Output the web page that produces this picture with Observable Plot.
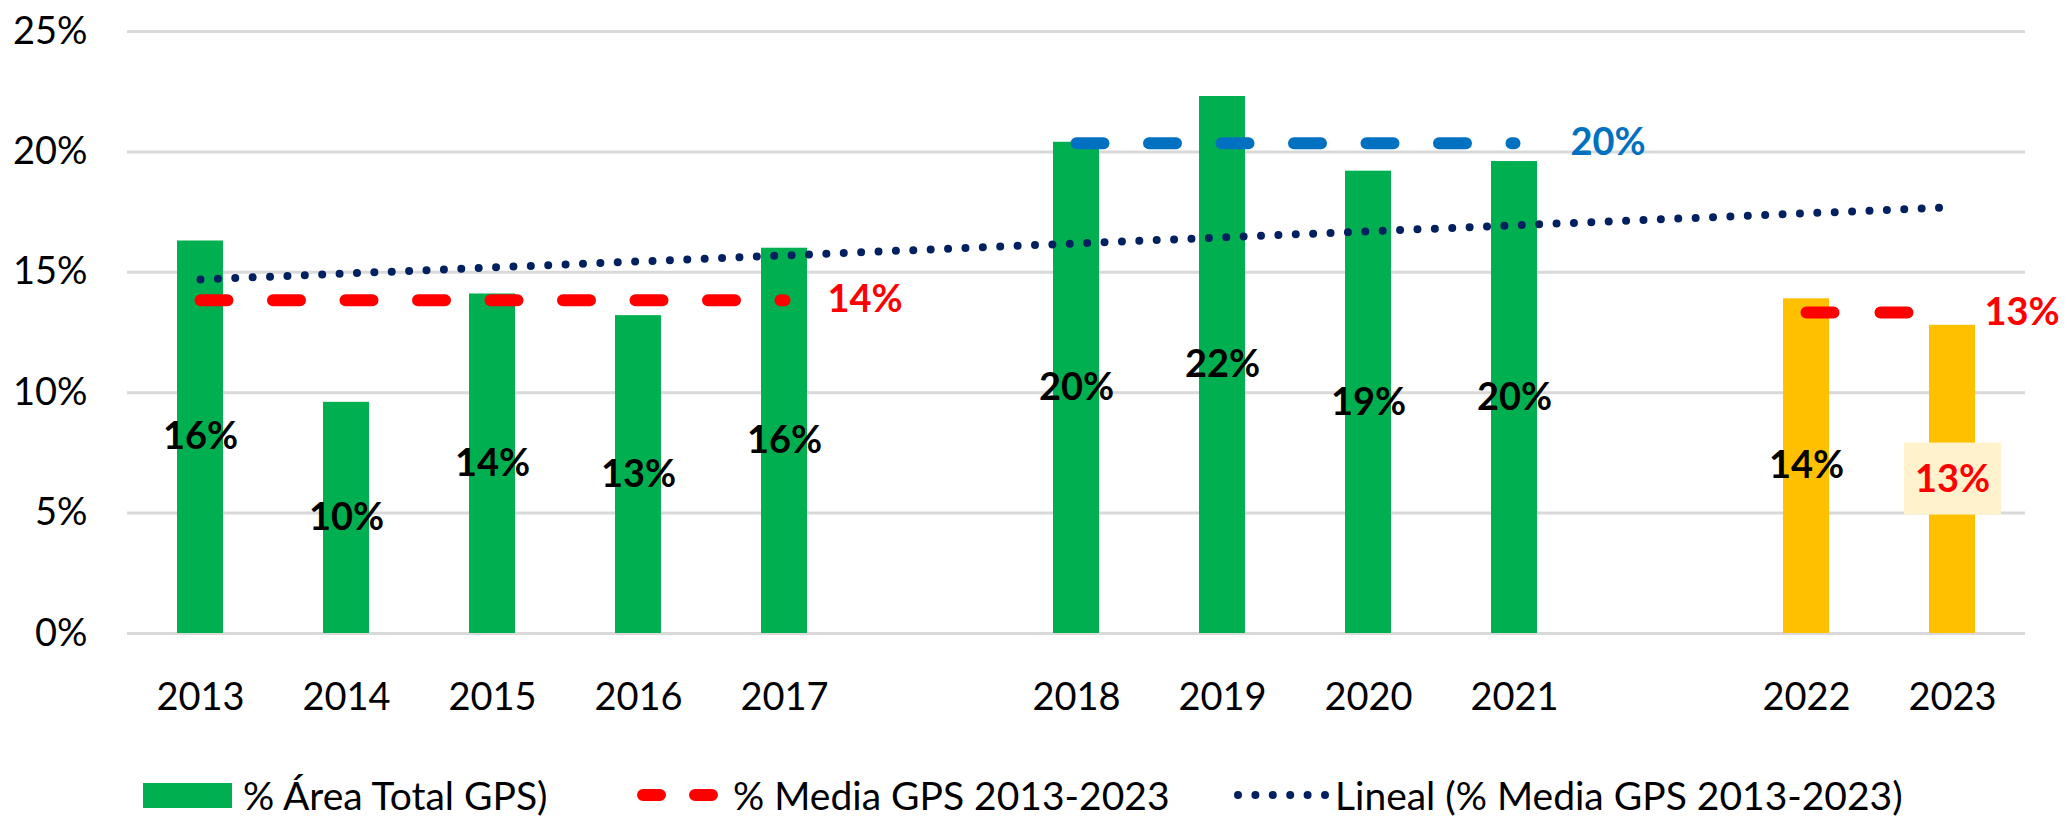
<!DOCTYPE html>
<html><head><meta charset="utf-8">
<script src="https://cdn.jsdelivr.net/npm/d3@7"></script>
<script src="https://cdn.jsdelivr.net/npm/@observablehq/plot@0.6"></script>
<style>
body{margin:0;background:#fff;font-family:Lato,sans-serif;}
#wrap{position:relative;width:2067px;height:819px;overflow:hidden;background:#fff;}
#chart{position:absolute;left:0;top:0;}
#legend{position:absolute;left:0;top:770px;width:2067px;height:50px;font-size:39px;color:#000;}
.item{position:absolute;top:0;display:flex;align-items:center;height:50px;white-space:nowrap;}
.item svg{display:block;}
</style></head><body>
<div id="wrap"><div id="chart"></div><div id="legend"></div></div>
<script>
// ---- data ----
const years = ["2013","2014","2015","2016","2017","2018","2019","2020","2021","2022","2023"];
const slots = ["2013","2014","2015","2016","2017","gap1","2018","2019","2020","2021","gap2","2022","2023"];
const shares = [16.3, 9.6, 14.1, 13.2, 16.0, 20.4, 22.3, 19.2, 19.6, 13.9, 12.8];
const shareLabels = ["16%","10%","14%","13%","16%","20%","22%","19%","20%","14%","13%"];
const shareGroup = ["past","past","past","past","past","past","past","past","past","recent","recent"];
const highlightYear = "2023";
const mediaFrom = ["2013","2018","2022"];
const mediaTo = ["2017","2021","2023"];
const mediaValues = [13.84, 20.36, 13.33];
const mediaLabels = ["14%","20%","13%"];
const trendYears = ["2013","2023"];
const trendValues = [14.7, 17.7];
const yTicks = [0,5,10,15,20,25];
const legendLabels = ["% Área Total GPS)","% Media GPS 2013-2023","Lineal (% Media GPS 2013-2023)"];

// ---- build ----
const bars = years.map((y,i)=>({year:y, value:shares[i], label:shareLabels[i], group:shareGroup[i]}));
const mediaColors = ["#FF0000","#0070C0","#FF0000"];
const mediaDash = ["27,45.5","27,45.5","27,47"];
const mediaDx = [43,56,32];
const font = "Lato, 'Open Sans', sans-serif";

const marks = [
  Plot.ruleY(yTicks, {stroke:"#d9d9d9", strokeWidth:3}),
  Plot.barY(bars, {filter:d=>d.group==="past", x:"year", y:"value", fill:"#00B050"}),
  Plot.barY(bars, {filter:d=>d.group==="recent", x:"year", y:"value", fill:"#FFC000"}),
];
mediaValues.forEach((v,i)=>{
  marks.push(Plot.line([{x:mediaFrom[i],y:v},{x:mediaTo[i],y:v}], {x:"x", y:"y", stroke:mediaColors[i], strokeWidth:12, strokeDasharray:mediaDash[i], strokeLinecap:"round"}));
});
marks.push(Plot.line(trendYears.map((x,i)=>({x, y:trendValues[i]})), {x:"x", y:"y", stroke:"#002060", strokeWidth:8, strokeDasharray:"0,17.4", strokeLinecap:"round"}));
marks.push(Plot.text(bars, {filter:d=>d.year!==highlightYear, x:"year", y:d=>d.value/2, text:"label", fill:"#000", fontSize:38, fontWeight:"bold"}));
marks.push(Plot.text(bars, {filter:d=>d.year===highlightYear, x:"year", y:d=>d.value/2, text:"label", fill:"#FF0000", fontSize:38, fontWeight:"bold", ariaDescription:"highlight-label"}));
mediaValues.forEach((v,i)=>{
  marks.push(Plot.text([{x:mediaTo[i],y:v,t:mediaLabels[i]}], {x:"x", y:"y", text:"t", fill:mediaColors[i], fontSize:38, fontWeight:"bold", textAnchor:"start", dx:mediaDx[i]}));
});
marks.push(Plot.axisY({ticks:yTicks, tickFormat:d=>d+"%", tickSize:0, tickPadding:40, fontSize:38, label:null, color:"#000"}));
marks.push(Plot.axisX({ticks:years, tickSize:0, tickPadding:50, fontSize:38, label:null, color:"#000"}));

const chart = Plot.plot({
  width:2067, height:760,
  marginLeft:127, marginRight:42, marginTop:31, marginBottom:127,
  style:{fontFamily:font, background:"#fff", color:"#000", overflow:"visible"},
  x:{type:"band", domain:slots, paddingInner:0.685, paddingOuter:0.3425},
  y:{domain:[0,25]},
  marks
});
document.getElementById("chart").appendChild(chart);

// background box behind highlighted label
chart.querySelectorAll('g[aria-description="highlight-label"] text').forEach(t=>{
  const b = t.getBBox();
  const r = document.createElementNS("http://www.w3.org/2000/svg","rect");
  r.setAttribute("x", b.x-11); r.setAttribute("y", b.y-11);
  r.setAttribute("width", b.width+22); r.setAttribute("height", b.height+26);
  r.setAttribute("fill", "#FFF2CC");
  if (t.getAttribute("transform")) r.setAttribute("transform", t.getAttribute("transform"));
  t.parentNode.insertBefore(r, t);
});

// legend
const legend = document.getElementById("legend");
const legendLeft = [143, 637, 1233];
const swatches = [
  '<svg width="89" height="25"><rect width="89" height="25" fill="#00B050"/></svg>',
  '<svg width="81" height="14"><line x1="6" x2="75" y1="7" y2="7" stroke="#FF0000" stroke-width="12" stroke-dasharray="17,35" stroke-linecap="round"/></svg>',
  '<svg width="96" height="10"><line x1="5" x2="92" y1="5" y2="5" stroke="#002060" stroke-width="8" stroke-dasharray="0,17.4" stroke-linecap="round"/></svg>'
];
const gaps = [11, 15, 6];
legendLabels.forEach((lab,i)=>{
  const d = document.createElement("div");
  d.className = "item";
  d.style.left = legendLeft[i]+"px";
  d.innerHTML = swatches[i] + '<span style="margin-left:'+gaps[i]+'px">'+lab+'</span>';
  legend.appendChild(d);
});
</script>
</body></html>
